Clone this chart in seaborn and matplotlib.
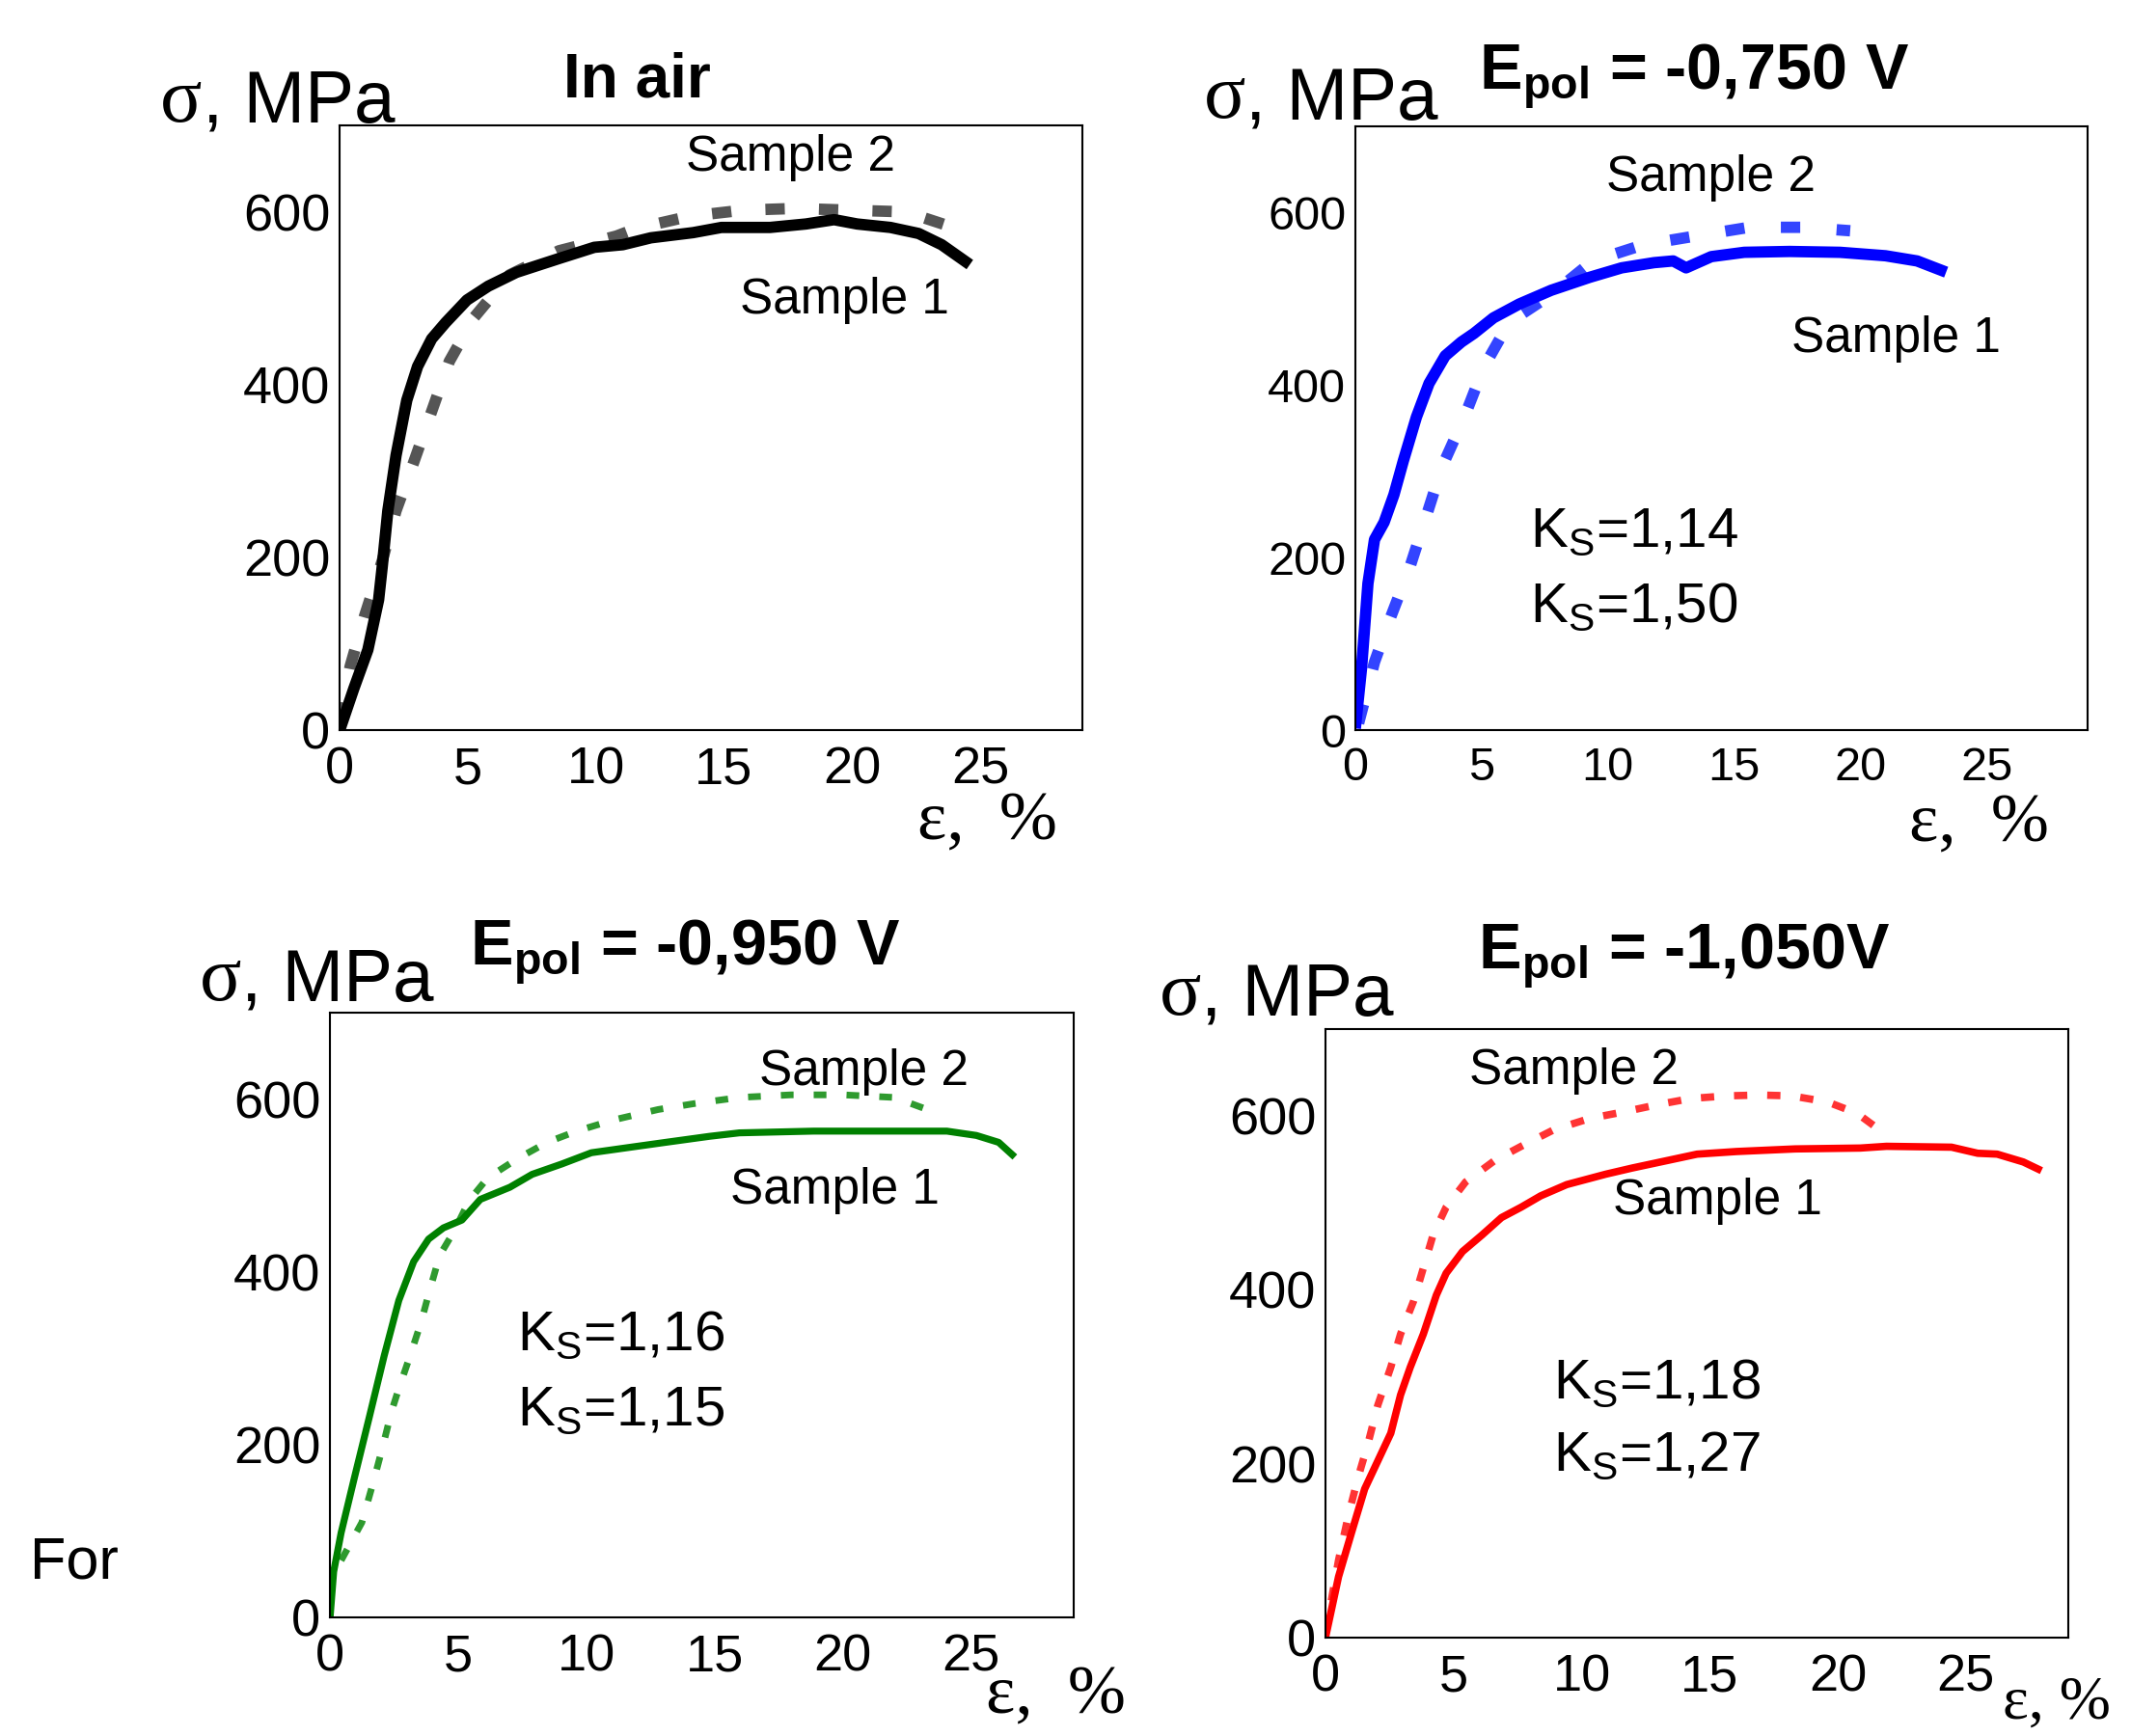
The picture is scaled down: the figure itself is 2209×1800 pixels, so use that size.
import numpy as np
import pandas as pd
import matplotlib
matplotlib.use("Agg")
import matplotlib.pyplot as plt
import seaborn as sns

# ---------------- data (strain %, stress MPa) ----------------
air_s1_eps = [0, 0.55, 1.1, 1.52, 1.66, 1.88, 2.2, 2.62, 3.04, 3.59, 4.14, 4.97, 5.8, 6.9, 8.56,
              9.94, 11.05, 12.15, 13.8, 14.9, 16.8, 18.2, 19.3, 20.2, 21.5, 22.6, 23.5, 24.6]
air_s1_sig = [0, 48, 93, 151, 189, 254, 318, 382, 421, 453, 472, 498, 514, 530, 546,
              559, 562, 570, 576, 582, 582, 586, 591, 586, 582, 575, 562, 539]
air_s2_eps = [0, 0.41, 0.97, 1.66, 2.2, 2.9, 3.59, 4.28, 5.25, 6.63, 8.56, 10.8, 11.6, 13.67,
              15.74, 17.8, 19.9, 22.1, 23.75]
air_s2_sig = [10, 74, 132, 196, 254, 311, 369, 427, 478, 527, 555, 572, 581, 595,
              602, 604, 602, 600, 584]

v750_s1_eps = [0, 0.25, 0.5, 0.76, 1.14, 1.53, 1.9, 2.42, 2.92, 3.56, 4.2, 4.7, 5.47, 6.49, 7.76,
               9.28, 10.55, 11.83, 12.59, 13.1, 14.1, 15.4, 17.2, 19.2, 21.0, 22.25, 23.4]
v750_s1_sig = [2, 73, 170, 221, 241, 273, 312, 363, 402, 434, 450, 460, 478, 494, 510,
               525, 536, 542, 544, 536, 549, 554, 555, 554, 550, 544, 531]
v750_s2_eps = [0.13, 0.76, 1.4, 2.16, 2.8, 3.43, 4.32, 5.09, 6.1, 7.76, 9.41, 11.44, 13.5,
               15.6, 17.7, 19.6]
v750_s2_sig = [8, 79, 131, 189, 247, 305, 363, 421, 473, 505, 544, 563, 573,
               583, 583, 579]

v950_s1_eps = [0, 0.14, 0.43, 0.95, 1.53, 2.11, 2.68, 3.26, 3.84, 4.42, 5.14, 5.86, 7.01, 7.88,
               9.04, 10.19, 11.63, 13.08, 14.8, 15.96, 18.85, 21.74, 24.05, 25.2, 26.07, 26.7]
v950_s1_sig = [0, 53, 98, 162, 232, 303, 367, 412, 438, 451, 460, 484, 498, 513,
               525, 538, 544, 550, 557, 561, 563, 563, 563, 558, 550, 533]
v950_s2_eps = [0.43, 1.24, 1.67, 2.02, 2.4, 2.68, 3.12, 3.55, 3.84, 4.27, 4.85, 5.43, 6.15,
               7.3, 8.46, 9.61, 11.06, 12.79, 14.23, 15.96, 17.98, 20.0, 22.0, 23.47]
v950_s2_sig = [66, 110, 155, 194, 239, 265, 303, 342, 374, 419, 448, 483, 509,
               531, 550, 563, 576, 588, 595, 602, 605, 605, 602, 586]

v1050_s1_eps = [0, 0.51, 1.02, 1.53, 2.04, 2.55, 2.93, 3.31, 3.82, 4.33, 4.71, 5.35, 6.11, 6.87,
                7.64, 8.4, 9.42, 10.95, 11.97, 13.24, 14.51, 16.04, 18.33, 20.88, 21.9, 24.44,
                25.46, 26.22, 27.24, 27.95]
v1050_s1_sig = [0, 70, 121, 171, 203, 235, 279, 311, 349, 394, 419, 444, 463, 483,
                495, 508, 521, 533, 540, 548, 556, 559, 562, 563, 565, 564,
                557, 556, 547, 537]
v1050_s2_eps = [0.0, 0.51, 0.89, 1.27, 1.65, 2.04, 2.55, 2.93, 3.44, 3.82, 4.2, 4.71, 5.47,
                6.62, 7.64, 8.91, 10.31, 11.71, 12.98, 14.26, 15.66, 16.93, 18.2, 19.6,
                20.75, 21.9]
v1050_s2_sig = [5, 89, 140, 184, 222, 267, 311, 349, 387, 425, 463, 495, 524,
                549, 565, 584, 597, 605, 613, 620, 623, 624, 623, 616,
                603, 578]

x_ticks = [0, 5, 10, 15, 20, 25]
y_ticks = [0, 200, 400, 600]
titles = ["In air", r"E$_\mathbf{pol}$ = -0,750 V", r"E$_\mathbf{pol}$ = -0,950 V",
          r"E$_\mathbf{pol}$ = -1,050V"]
ks_texts = [None, ("1,14", "1,50"), ("1,16", "1,15"), ("1,18", "1,27")]

# ---------------- style ----------------
sns.set_theme(style="white")
plt.rcParams["font.family"] = ["Liberation Sans", "DejaVu Sans"]
plt.rcParams["mathtext.fontset"] = "custom"
plt.rcParams["mathtext.rm"] = "Liberation Sans"
plt.rcParams["mathtext.bf"] = "Liberation Sans:bold"
plt.rcParams["mathtext.it"] = "Liberation Sans:italic"
for k in ["text.color", "axes.labelcolor", "xtick.color", "ytick.color", "axes.edgecolor"]:
    plt.rcParams[k] = "black"
SERIF = ["Liberation Serif", "DejaVu Serif"]

fig = plt.figure(figsize=(22.09, 18), dpi=100)
fig.patch.set_facecolor("white")

panels = [
    dict(pos=[0.1594, 0.5794, 0.3486, 0.3483], s1=(air_s1_eps, air_s1_sig), s2=(air_s2_eps, air_s2_sig),
         c1="#000000", c2="#555555", lw1=8.5, lw2=8.5, dash=(1.7, 3.0), tick_fs=39, title_fs=46,
         title_xy=(11.6, 752), s2_xy=(17.6, 663), s1_xy=(19.7, 498), sig_xy=(-7.0, 705),
         eps_xy=(25.3, -107), eps_fs=52, eps_txt="ε,  %", ks_xy=None),
    dict(pos=[0.6360, 0.5794, 0.3436, 0.3478], s1=(v750_s1_eps, v750_s1_sig), s2=(v750_s2_eps, v750_s2_sig),
         c1="#0000ff", c2="#3344ff", lw1=8.5, lw2=8.5, dash=(1.7, 3.2), tick_fs=35, title_fs=48,
         title_xy=(13.4, 758), s2_xy=(14.1, 640), s1_xy=(21.4, 453), sig_xy=(-6.0, 710),
         eps_xy=(24.7, -110), eps_fs=52, eps_txt="ε,  %", ks_xy=(6.9, 229, 142)),
    dict(pos=[0.1549, 0.0683, 0.3490, 0.3483], s1=(v950_s1_eps, v950_s1_sig), s2=(v950_s2_eps, v950_s2_sig),
         c1="#008000", c2="#2e9a2e", lw1=5.2, lw2=5.0, dash=(1.9, 3.0), tick_fs=39, title_fs=48,
         title_xy=(13.85, 770), s2_xy=(20.8, 631), s1_xy=(19.7, 494), sig_xy=(-5.1, 715),
         eps_xy=(28.3, -92), eps_fs=52, eps_txt="ε,  %", ks_xy=(7.3, 326, 239)),
    dict(pos=[0.6220, 0.0567, 0.3486, 0.3506], s1=(v1050_s1_eps, v1050_s1_sig), s2=(v1050_s2_eps, v1050_s2_sig),
         c1="#ff0000", c2="#ff3333", lw1=5.5, lw2=5.5, dash=(1.8, 2.7), tick_fs=39, title_fs=48,
         title_xy=(14.0, 784), s2_xy=(9.7, 652), s1_xy=(15.3, 502), sig_xy=(-6.5, 717),
         eps_xy=(28.55, -76), eps_fs=46, eps_txt="ε, %", ks_xy=(8.9, 292, 209)),
]

for i, p in enumerate(panels):
    ax = fig.add_axes(p["pos"])
    df1 = pd.DataFrame({"eps": p["s1"][0], "sig": p["s1"][1]})
    df2 = pd.DataFrame({"eps": p["s2"][0], "sig": p["s2"][1]})
    sns.lineplot(data=df2, x="eps", y="sig", ax=ax, color=p["c2"], lw=p["lw2"],
                 linestyle=(0, p["dash"]), estimator=None, sort=False)
    sns.lineplot(data=df1, x="eps", y="sig", ax=ax, color=p["c1"], lw=p["lw1"],
                 estimator=None, sort=False, solid_capstyle="butt", solid_joinstyle="round")
    ax.set_xlim(0, 29)
    ax.set_ylim(0, 700)
    ax.set_xticks(x_ticks)
    ax.set_yticks(y_ticks)
    ax.set_xlabel("")
    ax.set_ylabel("")
    ax.tick_params(axis="both", length=0, labelsize=p["tick_fs"], colors="black")
    ax.tick_params(axis="x", pad=12)
    ax.tick_params(axis="y", pad=7)
    for sp in ax.spines.values():
        sp.set_visible(True)
        sp.set_color("black")
        sp.set_linewidth(1.5)
    ax.grid(False)

    # sample labels
    ax.text(*p["s2_xy"], "Sample 2", fontsize=37, ha="center", va="center", clip_on=False)
    ax.text(*p["s1_xy"], "Sample 1", fontsize=37, ha="center", va="center", clip_on=False)
    # title
    ax.text(*p["title_xy"], titles[i], fontsize=p["title_fs"], fontweight="bold", ha="center",
            va="center", clip_on=False)
    # y label: sigma (serif) + ", MPa"
    t_sig = ax.text(*p["sig_xy"], "σ", fontsize=58, family=SERIF, ha="left", va="baseline",
                    clip_on=False)
    ax.annotate(", MPa", xy=(1.0, 0.0), xycoords=t_sig, fontsize=55, ha="left", va="bottom",
                annotation_clip=False)
    # x label
    ax.text(*p["eps_xy"], p["eps_txt"], fontsize=p["eps_fs"], family=SERIF, ha="center",
            va="center", clip_on=False)
    # K_S coefficients
    if p["ks_xy"] is not None:
        kx, ky1, ky2 = p["ks_xy"]
        ax.text(kx, ky1, r"K$_\mathrm{S}$=" + ks_texts[i][0], fontsize=42, ha="left", va="center")
        ax.text(kx, ky2, r"K$_\mathrm{S}$=" + ks_texts[i][1], fontsize=42, ha="left", va="center")

fig.text(0.014, 0.0994, "For", fontsize=44, ha="left", va="center")

fig.savefig("out.png", dpi=100, facecolor="white")
